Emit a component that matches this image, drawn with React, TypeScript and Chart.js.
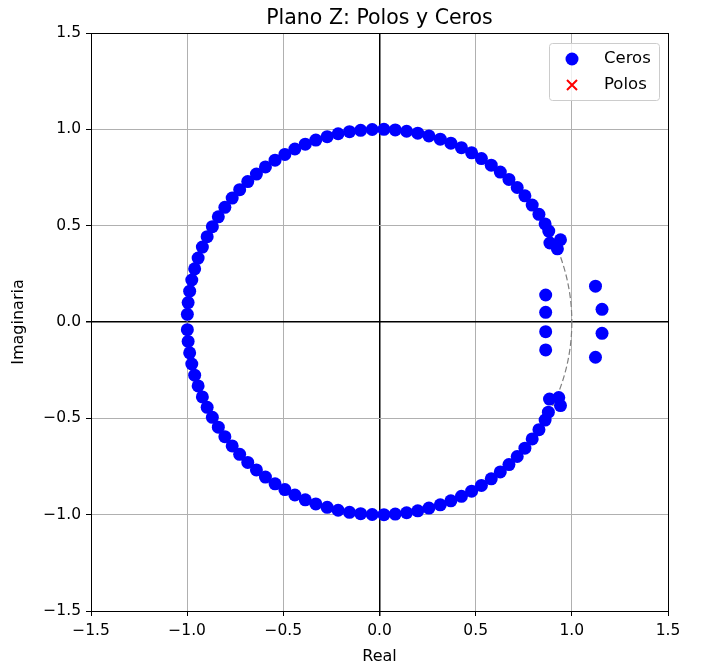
import React, { useRef, useEffect } from 'react';
import { Chart, registerables } from 'chart.js';

Chart.register(...registerables);

// Ceros sobre la circunferencia unidad (mitad superior)
const upperRe = [0.861, 0.829, 0.794, 0.756, 0.716, 0.673, 0.628, 0.581, 0.530, 0.479, 0.426, 0.371, 0.316, 0.257, 0.199, 0.141, 0.082, 0.023, -0.038, -0.098, -0.156, -0.215, -0.272, -0.331, -0.386, -0.440, -0.492, -0.543, -0.593, -0.640, -0.685, -0.727, -0.766, -0.804, -0.838, -0.869, -0.896, -0.921, -0.943, -0.961, -0.976, -0.987, -0.995, -0.999];
const upperIm = [0.509, 0.559, 0.607, 0.655, 0.698, 0.740, 0.778, 0.814, 0.848, 0.878, 0.905, 0.928, 0.949, 0.966, 0.980, 0.990, 0.997, 1.000, 0.999, 0.995, 0.988, 0.977, 0.962, 0.944, 0.923, 0.898, 0.870, 0.840, 0.805, 0.768, 0.729, 0.687, 0.643, 0.595, 0.546, 0.495, 0.443, 0.389, 0.332, 0.276, 0.218, 0.160, 0.101, 0.040];
// mitad inferior
const lowerRe = [0.861, 0.829, 0.794, 0.756, 0.716, 0.673, 0.628, 0.581, 0.530, 0.479, 0.426, 0.371, 0.316, 0.257, 0.199, 0.141, 0.082, 0.023, -0.038, -0.098, -0.156, -0.215, -0.272, -0.331, -0.386, -0.440, -0.492, -0.543, -0.593, -0.640, -0.685, -0.727, -0.766, -0.804, -0.838, -0.869, -0.896, -0.921, -0.943, -0.961, -0.976, -0.987, -0.995, -0.999];
const lowerIm = [-0.509, -0.559, -0.607, -0.655, -0.698, -0.740, -0.778, -0.814, -0.848, -0.878, -0.905, -0.928, -0.949, -0.966, -0.980, -0.990, -0.997, -1.000, -0.999, -0.995, -0.988, -0.977, -0.962, -0.944, -0.923, -0.898, -0.870, -0.840, -0.805, -0.768, -0.729, -0.687, -0.643, -0.595, -0.546, -0.495, -0.443, -0.389, -0.332, -0.276, -0.218, -0.160, -0.101, -0.040];
// ceros de la banda de transición
const edgeRe = [0.880, 0.886, 0.941, 0.925, 0.878, 0.884, 0.941, 0.932];
const edgeIm = [0.472, 0.410, 0.427, 0.380, -0.468, -0.400, -0.434, -0.392];
// ceros de la banda de paso (pares recíprocos)
const passRe = [0.864, 0.864, 0.864, 0.864, 1.123, 1.157, 1.157, 1.123];
const passIm = [0.140, 0.050, -0.050, -0.145, 0.186, 0.066, -0.059, -0.183];
// polos (ninguno visible)
const polesRe: number[] = [];
const polesIm: number[] = [];

const axisMin = -1.5;
const axisMax = 1.5;
const tickStep = 0.5;

const FONT = 'DejaVu Sans';

const fmt = (v: number) => {
  const s = Number(v).toFixed(1);
  return s.startsWith('-') ? '\u2212' + s.slice(1) : s;
};

const toPoints = (re: number[], im: number[]) => re.map((x, i) => ({ x, y: im[i] }));

const extrasPlugin = {
  id: 'zplaneExtras',
  beforeDatasetsDraw(chart: any) {
    const { ctx, chartArea, scales } = chart;
    const cx = scales.x.getPixelForValue(0);
    const cy = scales.y.getPixelForValue(0);
    const rx = scales.x.getPixelForValue(1) - cx;
    const ry = cy - scales.y.getPixelForValue(1);
    ctx.save();
    ctx.beginPath();
    ctx.rect(chartArea.left, chartArea.top, chartArea.right - chartArea.left, chartArea.bottom - chartArea.top);
    ctx.clip();
    ctx.beginPath();
    ctx.ellipse(cx, cy, rx, ry, 0, 0, Math.PI * 2);
    ctx.strokeStyle = '#7f7f7f';
    ctx.lineWidth = 1.2;
    ctx.setLineDash([6, 3]);
    ctx.stroke();
    ctx.restore();
  },
  afterDraw(chart: any) {
    const { ctx, chartArea } = chart;
    ctx.save();
    // marco
    ctx.strokeStyle = 'black';
    ctx.lineWidth = 1;
    ctx.strokeRect(
      Math.round(chartArea.left) + 0.5,
      Math.round(chartArea.top) + 0.5,
      Math.round(chartArea.right - chartArea.left),
      Math.round(chartArea.bottom - chartArea.top)
    );
    // título
    ctx.fillStyle = 'black';
    ctx.font = `20.5px "${FONT}"`;
    ctx.textAlign = 'center';
    ctx.textBaseline = 'alphabetic';
    ctx.fillText('Plano Z: Polos y Ceros', (chartArea.left + chartArea.right) / 2, 24);
    // leyenda
    const bx = chartArea.right - 119;
    const by = chartArea.top + 10;
    const bw = 110;
    const bh = 57;
    ctx.beginPath();
    ctx.roundRect(bx + 0.5, by + 0.5, bw, bh, 3);
    ctx.fillStyle = 'rgba(255,255,255,0.8)';
    ctx.fill();
    ctx.strokeStyle = '#cccccc';
    ctx.stroke();
    const mx = bx + 23;
    ctx.beginPath();
    ctx.arc(mx, by + 16, 6.5, 0, Math.PI * 2);
    ctx.fillStyle = 'blue';
    ctx.fill();
    ctx.beginPath();
    ctx.strokeStyle = 'red';
    ctx.lineWidth = 2;
    ctx.moveTo(mx - 5, by + 37);
    ctx.lineTo(mx + 5, by + 47);
    ctx.moveTo(mx + 5, by + 37);
    ctx.lineTo(mx - 5, by + 47);
    ctx.stroke();
    ctx.fillStyle = 'black';
    ctx.font = `16.5px "${FONT}"`;
    ctx.textAlign = 'left';
    ctx.textBaseline = 'middle';
    ctx.fillText('Ceros', bx + 55, by + 16);
    ctx.fillText('Polos', bx + 55, by + 42);
    ctx.restore();
  },
};

const gridColor = (c: any) => (c.tick && c.tick.value === 0 ? 'black' : '#b0b0b0');
const gridWidth = (c: any) => (c.tick && c.tick.value === 0 ? 1.5 : 1);

const ZPlane: React.FC = () => {
  const chartRef = useRef<HTMLCanvasElement>(null);
  const chartInstance = useRef<Chart | null>(null);

  useEffect(() => {
    if (!chartRef.current) return;
    if (chartInstance.current) chartInstance.current.destroy();

    const ctx = chartRef.current.getContext('2d');
    if (!ctx) return;

    const zeros = [
      ...toPoints(upperRe, upperIm),
      ...toPoints(lowerRe, lowerIm),
      ...toPoints(edgeRe, edgeIm),
      ...toPoints(passRe, passIm),
    ];

    const tickFont = { family: FONT, size: 15.5 };
    const labelFont = { family: FONT, size: 16 };

    chartInstance.current = new Chart(ctx, {
      type: 'scatter',
      data: {
        datasets: [
          {
            label: 'Ceros',
            data: zeros,
            pointStyle: 'circle',
            pointRadius: 6.5,
            pointBorderWidth: 0,
            backgroundColor: 'blue',
            borderColor: 'blue',
          },
          {
            label: 'Polos',
            data: toPoints(polesRe, polesIm),
            pointStyle: 'crossRot',
            pointRadius: 6,
            borderColor: 'red',
            borderWidth: 2,
          },
        ],
      },
      options: {
        animation: false,
        responsive: true,
        maintainAspectRatio: false,
        layout: { padding: { top: 33, right: 43, left: 0, bottom: 0 } },
        plugins: {
          legend: { display: false },
          title: { display: false },
          tooltip: { enabled: false },
        },
        scales: {
          x: {
            type: 'linear',
            min: axisMin,
            max: axisMax,
            z: 1,
            afterFit: (s: any) => {
              s.height = 58;
            },
            ticks: {
              stepSize: tickStep,
              color: 'black',
              font: tickFont,
              padding: 6,
              maxRotation: 0,
              callback: (v: any) => fmt(v),
            },
            grid: {
              color: gridColor,
              lineWidth: gridWidth,
              tickColor: 'black',
              tickLength: 5,
              drawTicks: true,
            },
            border: { display: true, color: 'black', width: 1 },
            title: {
              display: true,
              text: 'Real',
              color: 'black',
              font: labelFont,
              padding: { top: 0, bottom: 3 },
            },
          },
          y: {
            type: 'linear',
            min: axisMin,
            max: axisMax,
            z: 1,
            afterFit: (s: any) => {
              s.width = 91;
            },
            ticks: {
              stepSize: tickStep,
              color: 'black',
              font: tickFont,
              padding: 5,
              callback: (v: any) => fmt(v),
            },
            grid: {
              color: gridColor,
              lineWidth: gridWidth,
              tickColor: 'black',
              tickLength: 5,
              drawTicks: true,
            },
            border: { display: true, color: 'black', width: 1 },
            title: {
              display: true,
              text: 'Imaginaria',
              color: 'black',
              font: labelFont,
              padding: { top: 9, bottom: 0 },
            },
          },
        },
      },
      plugins: [extrasPlugin],
    });

    return () => {
      if (chartInstance.current) {
        chartInstance.current.destroy();
        chartInstance.current = null;
      }
    };
  }, []);

  return (
    <div style={{ position: 'fixed', left: 0, top: 0, width: 711, height: 669, background: 'white' }}>
      <canvas ref={chartRef} />
    </div>
  );
};

export default function App() {
  return <ZPlane />;
}
